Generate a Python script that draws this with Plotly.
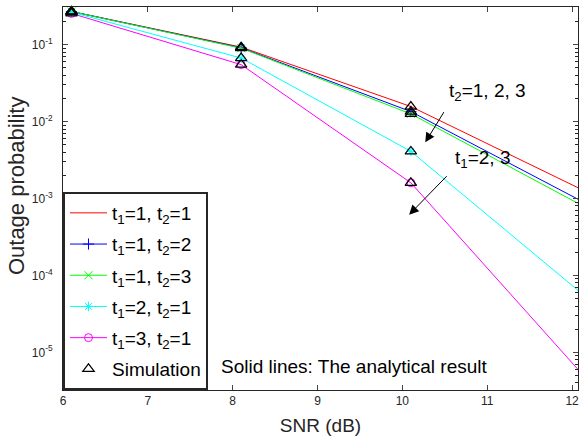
import plotly.graph_objects as go

snr = [6.1, 8.1, 10.1, 12.1]
sim_snr = [6.1, 8.1, 10.1]

names = ["t<sub>1</sub>=1, t<sub>2</sub>=1", "t<sub>1</sub>=1, t<sub>2</sub>=2",
         "t<sub>1</sub>=1, t<sub>2</sub>=3", "t<sub>1</sub>=2, t<sub>2</sub>=1",
         "t<sub>1</sub>=3, t<sub>2</sub>=1"]
ana_11 = [0.27, 0.093, 0.0157, 0.00133]
ana_12 = [0.27, 0.091, 0.0135, 0.00094]
ana_13 = [0.27, 0.090, 0.0126, 0.00083]
ana_21 = [0.265, 0.067, 0.0041, 0.000060]
ana_31 = [0.255, 0.055, 0.0016, 0.0000055]

sim_11 = [0.27, 0.093, 0.0157]
sim_12 = [0.27, 0.091, 0.0135]
sim_13 = [0.27, 0.090, 0.0126]
sim_21 = [0.265, 0.067, 0.0041]
sim_31 = [0.255, 0.055, 0.0016]

colors = ["#FF0000", "#0000FF", "#00FF00", "#00FFFF", "#FF00FF"]
symbols = [None, "cross-thin-open", "x-thin-open", "asterisk-open", "circle-open"]

ytick_vals = [1e-5, 1e-4, 1e-3, 1e-2, 1e-1]
ytick_text = ["10<sup>-5</sup>", "10<sup>-4</sup>", "10<sup>-3</sup>", "10<sup>-2</sup>", "10<sup>-1</sup>"]
xtick_vals = [6, 7, 8, 9, 10, 11, 12]
xtick_text = ["6", "7", "8", "9", "10", "11", "12"]
minor_vals = [m * 10.0 ** e for e in range(-6, 0) for m in range(2, 10)]

fig = go.Figure()
for k, (name, vals, c, s) in enumerate(zip(names, [ana_11, ana_12, ana_13, ana_21, ana_31], colors, symbols)):
    if s is None:
        fig.add_trace(go.Scatter(x=snr, y=vals, mode="lines", name=name, legendgroup=f"a{k}",
                                 line=dict(color=c, width=1)))
    else:
        fig.add_trace(go.Scatter(x=snr, y=vals, mode="lines+markers", name=name, legendgroup=f"a{k}",
                                 line=dict(color=c, width=1),
                                 marker=dict(symbol=s, size=8, color=c, line=dict(color=c, width=1))))

for i, vals in enumerate([sim_11, sim_12, sim_13, sim_21, sim_31]):
    fig.add_trace(go.Scatter(x=sim_snr, y=vals, mode="markers", name="Simulation",
                             legendgroup="sim", showlegend=(i == 0),
                             marker=dict(symbol="triangle-up-open", size=10, color="black",
                                         line=dict(color="black", width=1.2)),
                             cliponaxis=False))

fnt = "Liberation Sans, Arial, sans-serif"
fig.update_layout(
    width=579, height=443,
    margin=dict(l=63, r=1, t=7, b=53),
    paper_bgcolor="white", plot_bgcolor="white",
    font=dict(family=fnt, color="#262626"),
    showlegend=True,
    legend=dict(x=0, y=0, xanchor="left", yanchor="bottom",
                bgcolor="white", bordercolor="#262626", borderwidth=2,
                font=dict(size=19, color="black"), tracegroupgap=3.5,
                itemwidth=37),
    xaxis=dict(range=[6, 12.07], tickvals=xtick_vals, ticktext=xtick_text, ticks="inside", ticklen=5,
               ticklabeloverflow="allow", automargin=False,
               showline=True, linecolor="#262626", linewidth=1, mirror="ticks",
               showgrid=False, zeroline=False, tickfont=dict(size=12, color="#262626"),
               title=dict(text="SNR (dB)", font=dict(size=19, color="#262626"), standoff=11)),
    yaxis=dict(type="log", range=[-5.49, -0.51], tickvals=ytick_vals, ticktext=ytick_text,
               ticks="inside", ticklen=5, automargin=False, ticklabelstandoff=7,
               minor=dict(ticks="inside", ticklen=3, tickvals=minor_vals, tickcolor="#262626"),
               showline=True, linecolor="#262626", linewidth=1, mirror="ticks",
               showgrid=False, zeroline=False, tickfont=dict(size=12, color="#262626")),
    annotations=[
        dict(x=-0.0913, y=0.535, xref="paper", yref="paper", text="Outage probability",
             textangle=-90, showarrow=False, xanchor="center", yanchor="middle",
             font=dict(size=22, color="#262626")),
        dict(x=10.53, y=-1.61, xref="x", yref="y", text="t<sub>2</sub>=1, 2, 3",
             showarrow=False, xanchor="left", yanchor="middle",
             font=dict(size=19, color="black")),
        dict(x=10.60, y=-2.49, xref="x", yref="y", text="t<sub>1</sub>=2, 3",
             showarrow=False, xanchor="left", yanchor="middle",
             font=dict(size=19, color="black")),
        dict(x=10.27, y=-2.27, xref="x", yref="y", ax=10.50, ay=-1.857, axref="x", ayref="y",
             text="", showarrow=True, arrowhead=2, arrowsize=1.9, arrowwidth=1, arrowcolor="black"),
        dict(x=10.08, y=-3.21, xref="x", yref="y", ax=10.54, ay=-2.69, axref="x", ayref="y",
             text="", showarrow=True, arrowhead=2, arrowsize=1.9, arrowwidth=1, arrowcolor="black"),
        dict(x=7.84, y=-5.19, xref="x", yref="y", text="Solid lines: The analytical result",
             showarrow=False, xanchor="left", yanchor="middle",
             font=dict(size=19, color="black")),
    ],
)

fig.write_html("out.html", config={"displayModeBar": False},
               post_script="document.body.style.margin='0';")
